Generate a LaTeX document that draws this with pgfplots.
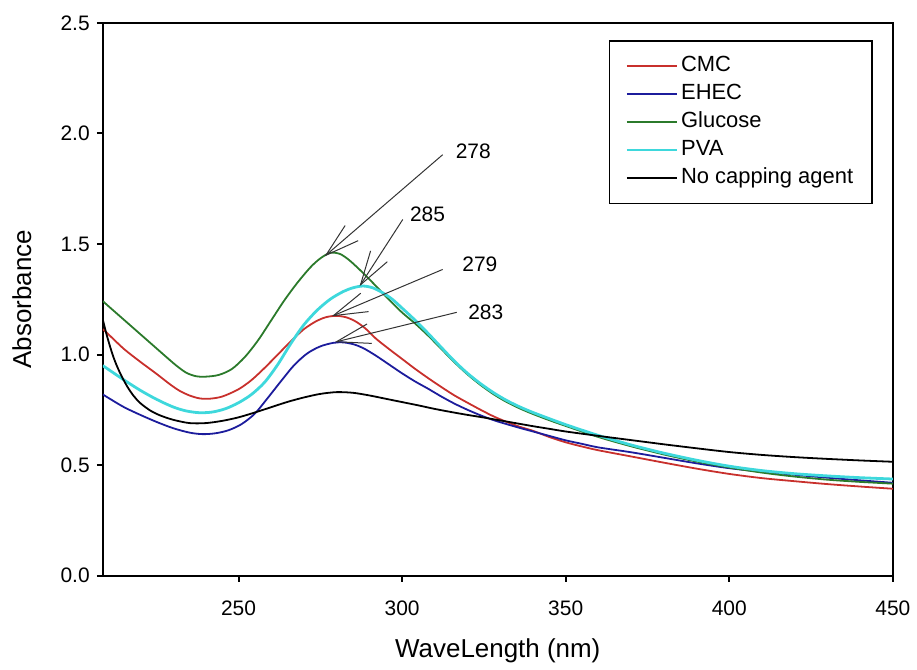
\documentclass[border=0pt]{standalone}
\usepackage{fontspec}
\setmainfont{Liberation Sans}
\usepackage{pgfplots}
\pgfplotsset{compat=1.18}
\usetikzlibrary{arrows.meta}
\definecolor{cmcred}{HTML}{C8302C}
\definecolor{ehecblue}{HTML}{1C1C9C}
\definecolor{glugreen}{HTML}{2B7A2B}
\definecolor{pvacyan}{HTML}{3ED8DC}
\definecolor{annot}{HTML}{333333}

\begin{document}
\begin{tikzpicture}
\begin{axis}[
  width=396pt, height=277pt, scale only axis,
  xmin=208.5, xmax=450, ymin=0, ymax=2.5,
  xtick={250,300,...,450}, ytick={0,0.5,...,2.5},
  xtick pos=bottom, ytick pos=left, tick align=outside,
  major tick length=3pt,
  axis line style={line width=1pt},
  every tick/.style={black, line width=1pt},
  /pgf/number format/assume math mode=true,
  yticklabel style={/pgf/number format/.cd, fixed, fixed zerofill, precision=1, /tikz/.cd},
  xticklabel style={yshift=-6pt},
  tick label style={font=\fontsize{10.5}{12}\selectfont},
  xlabel={WaveLength (nm)}, ylabel={Absorbance},
  label style={font=\fontsize{13}{15}\selectfont},
  xlabel style={at={(axis description cs:0.5,0)}, anchor=center, yshift=-37.5pt},
  ylabel style={at={(axis description cs:-0.1023,0.5)}, anchor=center},
  legend style={at={(rel axis cs:1,1)}, anchor=north east, xshift=-10pt, yshift=-8.5pt,
    draw=black, line width=0.8pt, font=\fontsize{11}{13}\selectfont,
    inner xsep=8pt, inner ysep=6pt, row sep=0.5pt,
    nodes={inner sep=1.5pt, text height=8pt, text depth=2.5pt}},
  legend cell align=left,
  legend image code/.code={\draw[#1] (0pt,0pt) -- (25pt,0pt);},
  every axis plot/.append style={smooth, no markers},
]
% CMC
\addplot[cmcred, line width=0.9pt] coordinates {
(208.5,1.115) (210,1.095) (215,1.025) (220,0.967) (225,0.912) (229,0.866) (232,0.836)
(235,0.815) (238,0.802) (241,0.800) (245,0.810) (250,0.843) (254,0.885) (258,0.940)
(262,1.000) (266,1.060) (270,1.115) (274,1.153) (277,1.170) (280,1.175) (283,1.168)
(286,1.148) (289,1.115) (292,1.072) (296,1.025) (300,0.980) (304,0.935) (308,0.893)
(312,0.853) (316,0.815) (320,0.782) (324,0.750) (328,0.720) (332,0.695) (336,0.673)
(340,0.655) (345,0.627) (350,0.603) (355,0.584) (360,0.567) (370,0.539) (380,0.511)
(390,0.484) (400,0.460) (410,0.441) (420,0.427) (430,0.414) (440,0.403) (450,0.393)};
\addlegendentry{CMC}
% EHEC
\addplot[ehecblue, line width=0.9pt] coordinates {
(208.5,0.820) (210,0.806) (215,0.762) (220,0.727) (225,0.695) (230,0.667) (235,0.647)
(239,0.640) (243,0.644) (247,0.658) (251,0.686) (255,0.733) (259,0.805) (263,0.880)
(267,0.952) (271,1.005) (275,1.037) (279,1.053) (282,1.055) (285,1.047) (288,1.030)
(292,0.995) (296,0.955) (300,0.915) (304,0.878) (308,0.845) (312,0.810) (316,0.778)
(320,0.750) (324,0.725) (328,0.703) (332,0.685) (336,0.668) (340,0.652) (345,0.632)
(350,0.612) (355,0.596) (360,0.580) (370,0.558) (380,0.533) (390,0.508) (400,0.486)
(410,0.470) (420,0.456) (430,0.443) (440,0.431) (450,0.420)};
\addlegendentry{EHEC}
% Glucose
\addplot[glugreen, line width=0.9pt] coordinates {
(208.5,1.242) (210,1.222) (215,1.157) (220,1.092) (225,1.027) (228,0.988) (231,0.950)
(234,0.918) (237,0.902) (240,0.900) (244,0.908) (248,0.935) (252,0.990) (256,1.065)
(260,1.155) (264,1.245) (268,1.325) (272,1.395) (275,1.435) (278,1.460) (281,1.455)
(284,1.425) (288,1.370) (292,1.310) (296,1.248) (300,1.190) (304,1.140) (308,1.085)
(312,1.025) (316,0.965) (320,0.910) (324,0.862) (328,0.820) (332,0.785) (336,0.756)
(340,0.731) (345,0.703) (350,0.677) (360,0.627) (370,0.585) (380,0.548) (390,0.516)
(400,0.489) (410,0.466) (420,0.448) (430,0.434) (440,0.424) (450,0.416)};
\addlegendentry{Glucose}
% PVA
\addplot[pvacyan, line width=1.4pt] coordinates {
(208.5,0.950) (210,0.935) (215,0.885) (220,0.838) (225,0.797) (230,0.763) (234,0.745)
(238,0.737) (242,0.740) (246,0.755) (250,0.782) (254,0.820) (258,0.875) (262,0.955)
(266,1.050) (270,1.135) (274,1.200) (278,1.250) (282,1.285) (285,1.302) (288,1.310)
(291,1.302) (294,1.280) (297,1.250) (300,1.210) (304,1.155) (308,1.095) (312,1.032)
(316,0.970) (320,0.915) (324,0.868) (328,0.827) (332,0.792) (336,0.763) (340,0.738)
(345,0.710) (350,0.683) (355,0.658) (360,0.634) (365,0.612) (370,0.591) (375,0.572)
(380,0.554) (390,0.522) (400,0.495) (410,0.475) (420,0.461) (430,0.451) (440,0.443) (450,0.437)};
\addlegendentry{PVA}
% No capping agent
\addplot[black, line width=0.9pt] coordinates {
(208.5,1.160) (209.5,1.100) (210.5,1.048) (211.5,1.000) (212.5,0.960) (214,0.910)
(216,0.855) (218,0.812) (220,0.780) (223,0.747) (226,0.725) (230,0.705) (235,0.690)
(240,0.690) (245,0.700) (250,0.716) (255,0.738) (260,0.762) (265,0.786) (270,0.806)
(275,0.822) (280,0.830) (285,0.827) (290,0.815) (295,0.800) (300,0.785) (305,0.770)
(310,0.754) (315,0.740) (320,0.727) (325,0.715) (330,0.702) (335,0.689) (340,0.676)
(345,0.664) (350,0.652) (360,0.632) (370,0.613) (380,0.594) (390,0.576) (400,0.559)
(410,0.546) (420,0.536) (430,0.528) (440,0.521) (450,0.515)};
\addlegendentry{No capping agent}

% peak annotations
\begin{scope}[annot, line width=0.5pt, -{Straight Barb[length=17pt,width=10pt]}]
\draw (axis cs:312.4,1.904) -- (axis cs:276.3,1.444);
\draw (axis cs:300.2,1.611) -- (axis cs:287.0,1.309);
\draw (axis cs:312.4,1.385) -- (axis cs:278.5,1.173);
\draw (axis cs:316.7,1.191) -- (axis cs:279.4,1.056);
\end{scope}
\begin{scope}[every node/.style={anchor=west, inner sep=0pt, font=\fontsize{10.5}{12}\selectfont}]
\node at (axis cs:316.3,1.918) {278};
\node at (axis cs:302.3,1.634) {285};
\node at (axis cs:318.3,1.408) {279};
\node at (axis cs:320.1,1.191) {283};
\end{scope}
\end{axis}
\path ([xshift=-51.5pt,yshift=-45.5pt]current axis.south west) rectangle ([xshift=11pt,yshift=11.5pt]current axis.north east);
\end{tikzpicture}
\end{document}
